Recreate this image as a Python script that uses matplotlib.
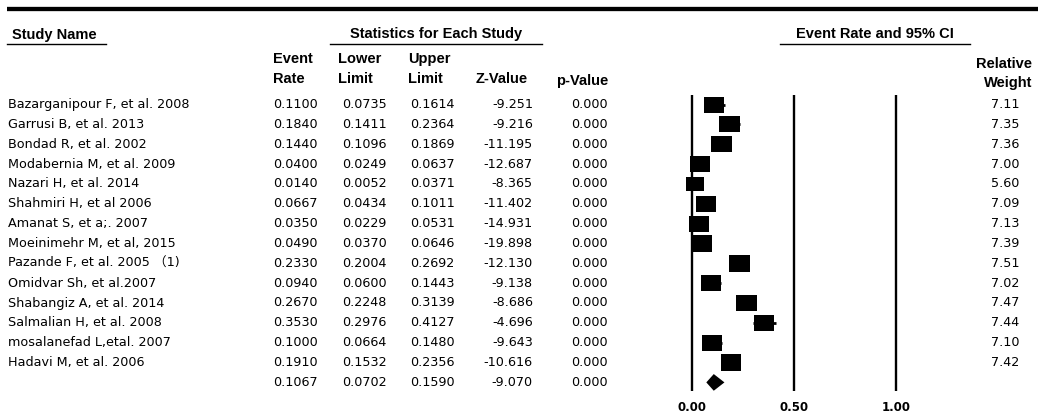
import numpy as np
import matplotlib.pyplot as plt
from matplotlib import transforms
from matplotlib.patches import Rectangle, Polygon

# Study-level results
studies = [
    "Bazarganipour F, et al. 2008",
    "Garrusi B, et al. 2013",
    "Bondad R, et al. 2002",
    "Modabernia M, et al. 2009",
    "Nazari H, et al. 2014",
    "Shahmiri H, et al 2006",
    "Amanat S, et a;. 2007",
    "Moeinimehr M, et al, 2015",
    "Pazande F, et al. 2005 \uff081)",
    "Omidvar Sh, et al.2007",
    "Shabangiz A, et al. 2014",
    "Salmalian H, et al. 2008",
    "mosalanefad L,etal. 2007",
    "Hadavi M, et al. 2006",
]
event_rate = [0.1100, 0.1840, 0.1440, 0.0400, 0.0140, 0.0667, 0.0350,
              0.0490, 0.2330, 0.0940, 0.2670, 0.3530, 0.1000, 0.1910]
lower = [0.0735, 0.1411, 0.1096, 0.0249, 0.0052, 0.0434, 0.0229,
         0.0370, 0.2004, 0.0600, 0.2248, 0.2976, 0.0664, 0.1532]
upper = [0.1614, 0.2364, 0.1869, 0.0637, 0.0371, 0.1011, 0.0531,
         0.0646, 0.2692, 0.1443, 0.3139, 0.4127, 0.1480, 0.2356]
z_value = [-9.251, -9.216, -11.195, -12.687, -8.365, -11.402, -14.931,
           -19.898, -12.130, -9.138, -8.686, -4.696, -9.643, -10.616]
p_value = [0.000] * 14
weight = [7.11, 7.35, 7.36, 7.00, 5.60, 7.09, 7.13,
          7.39, 7.51, 7.02, 7.47, 7.44, 7.10, 7.42]

# Pooled estimate
pooled_rate = 0.1067
pooled_lower = 0.0702
pooled_upper = 0.1590
pooled_z = -9.070
pooled_p = 0.000

rate_ticks = [0.0, 0.5, 1.0]

W, H = 1038, 412
fig = plt.figure(figsize=(W / 100, H / 100), dpi=100)

# page layer in pixel units: rules, headers, table columns
page = fig.add_axes([0, 0, 1, 1])
page.set_xlim(0, W)
page.set_ylim(H, 0)
page.axis("off")

# forest layer: x = event rate, y = row number
zero_px, one_px = 692, 896
row0_px, row_h = 104.5, 19.85
span = one_px - zero_px
ax = fig.add_axes([0, 0, 1, 1])
ax.set_xlim(-zero_px / span, (W - zero_px) / span)
ax.set_ylim((H - row0_px) / row_h, -row0_px / row_h)
ax.axis("off")

tr = transforms.blended_transform_factory(page.transData, ax.transData)

hfont = dict(family="Liberation Sans", fontweight="bold", fontsize=10.5)
bfont = dict(family=["DejaVu Sans", "Noto Sans CJK SC"], fontsize=9.2)

# top rule and section headers
page.plot([7, W], [9, 9], color="black", lw=3.1, solid_capstyle="butt")
page.text(12, 35, "Study Name", ha="left", va="center", **hfont)
page.plot([7, 106], [44, 44], color="black", lw=1)
page.text(436, 34, "Statistics for Each Study", ha="center", va="center", **hfont)
page.plot([330, 542], [44, 44], color="black", lw=1)
page.text(875, 34, "Event Rate and 95% CI", ha="center", va="center", **hfont)
page.plot([780, 970], [44, 44], color="black", lw=1)

# column headers
page.text(273, 59, "Event", ha="left", va="center", **hfont)
page.text(273, 79, "Rate", ha="left", va="center", **hfont)
page.text(338, 59, "Lower", ha="left", va="center", **hfont)
page.text(338, 79, "Limit", ha="left", va="center", **hfont)
page.text(408, 59, "Upper", ha="left", va="center", **hfont)
page.text(408, 79, "Limit", ha="left", va="center", **hfont)
page.text(528, 79, "Z-Value", ha="right", va="center", **hfont)
page.text(608, 81, "p-Value", ha="right", va="center", **hfont)
page.text(1032, 64, "Relative", ha="right", va="center", **hfont)
page.text(1032, 83, "Weight", ha="right", va="center", **hfont)

# table body
for i, name in enumerate(studies):
    ax.text(8, i, name, transform=tr, ha="left", va="center", **bfont)
    ax.text(273, i, f"{event_rate[i]:.4f}", transform=tr, ha="left", va="center", **bfont)
    ax.text(342, i, f"{lower[i]:.4f}", transform=tr, ha="left", va="center", **bfont)
    ax.text(410, i, f"{upper[i]:.4f}", transform=tr, ha="left", va="center", **bfont)
    ax.text(533, i, f"{z_value[i]:.3f}", transform=tr, ha="right", va="center", **bfont)
    ax.text(608, i, f"{p_value[i]:.3f}", transform=tr, ha="right", va="center", **bfont)
    ax.text(1005, i, f"{weight[i]:.2f}", transform=tr, ha="center", va="center", **bfont)

n = len(studies)
ax.text(273, n, f"{pooled_rate:.4f}", transform=tr, ha="left", va="center", **bfont)
ax.text(342, n, f"{pooled_lower:.4f}", transform=tr, ha="left", va="center", **bfont)
ax.text(410, n, f"{pooled_upper:.4f}", transform=tr, ha="left", va="center", **bfont)
ax.text(533, n, f"{pooled_z:.3f}", transform=tr, ha="right", va="center", **bfont)
ax.text(608, n, f"{pooled_p:.3f}", transform=tr, ha="right", va="center", **bfont)

# reference lines
ax.vlines(rate_ticks, -0.48, n + 0.43, color="black", lw=1.7)

# boxes sized by weight
ref_w = 7.11
box_w = 20 / span
box_h = 16 / row_h
for i in range(n):
    ax.plot([lower[i], upper[i]], [i, i], color="black", lw=2, solid_capstyle="butt")
    k = np.sqrt(weight[i] / ref_w)
    bw, bh = box_w * k, box_h * k
    ax.add_patch(Rectangle((event_rate[i] - bw / 2, i - bh / 2), bw, bh,
                           facecolor="black", edgecolor="none"))

# pooled diamond
ax.add_patch(Polygon([(pooled_lower, n), (pooled_rate, n - 0.42),
                      (pooled_upper, n), (pooled_rate, n + 0.42)],
                     closed=True, facecolor="black", edgecolor="none"))

# scale labels
for t in rate_ticks:
    ax.text(t, n + 1.25, f"{t:.2f}", ha="center", va="center",
            family="DejaVu Sans", fontweight="bold", fontsize=8.5)

fig.savefig("out.png", dpi=100, facecolor="white")
